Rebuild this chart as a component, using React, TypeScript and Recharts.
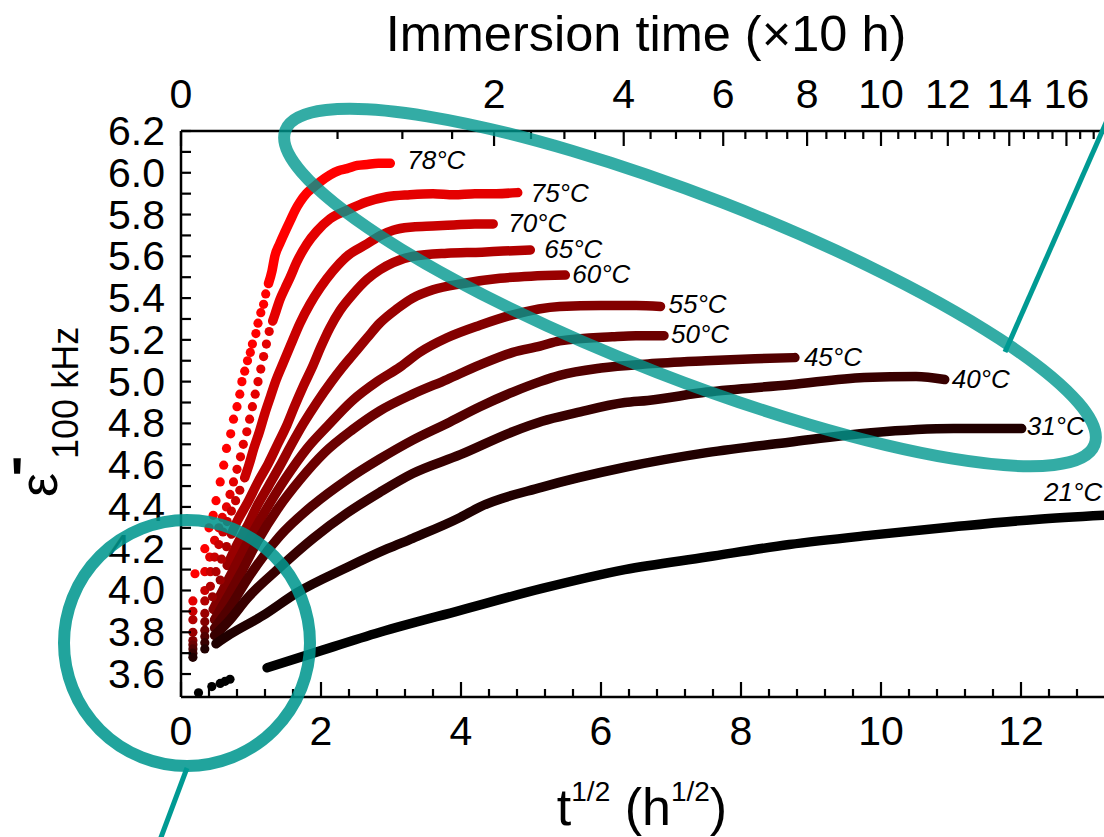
import React from "react"
import { ComposedChart, Line, Scatter, XAxis, YAxis, ReferenceDot } from "recharts"

// permittivity at 100 kHz vs sqrt(immersion time), one curve per bath temperature
const temps = ["78°C", "75°C", "70°C", "65°C", "60°C", "55°C", "50°C", "45°C", "40°C", "31°C", "21°C"]
const colors = ["#ff0000", "#e40000", "#c90000", "#b10000", "#990000", "#830000", "#6c0000", "#520000", "#380000", "#200000", "#000000"]

// early, well separated points of each run
const dots78 = [[0.2, 4.08], [0.34, 4.2], [0.4, 4.3], [0.46, 4.36], [0.5, 4.43], [0.56, 4.52], [0.61, 4.6], [0.65, 4.68], [0.71, 4.75], [0.75, 4.82], [0.8, 4.88], [0.84, 4.94], [0.87, 5.0], [0.91, 5.05], [0.95, 5.1], [0.99, 5.14], [1.02, 5.18], [1.07, 5.23], [1.1, 5.28], [1.14, 5.33], [1.18, 5.37], [1.21, 5.42]]
const dots75 = [[0.17, 3.95], [0.34, 4.09], [0.41, 4.16], [0.48, 4.24], [0.54, 4.3], [0.59, 4.35], [0.65, 4.4], [0.7, 4.46], [0.75, 4.52], [0.8, 4.58], [0.85, 4.64], [0.89, 4.7], [0.94, 4.76], [0.98, 4.82], [1.02, 4.88], [1.06, 4.94], [1.1, 5.0], [1.14, 5.06], [1.18, 5.12], [1.22, 5.18], [1.26, 5.24]]
const dots70 = [[0.17, 3.9], [0.34, 4.0], [0.42, 4.09], [0.48, 4.16], [0.54, 4.22], [0.6, 4.28], [0.66, 4.33], [0.72, 4.38], [0.78, 4.43], [0.84, 4.48]]
const dots65 = [[0.17, 3.86], [0.34, 3.95], [0.42, 4.02], [0.5, 4.09], [0.58, 4.15], [0.65, 4.21]]
const dots60 = [[0.17, 3.8], [0.34, 3.89], [0.45, 3.97], [0.56, 4.05]]
const dots55 = [[0.17, 3.76], [0.34, 3.85]]
const dots50 = [[0.17, 3.74], [0.34, 3.81]]
const dots45 = [[0.17, 3.72], [0.34, 3.78]]
const dots40 = [[0.17, 3.7], [0.34, 3.75]]
const dots31 = [[0.17, 3.68], [0.34, 3.72]]
const dots21 = [[0.25, 3.51], [0.44, 3.54], [0.56, 3.555], [0.63, 3.565], [0.7, 3.575]]

// dense part of each run (points merge into a band)
const line78 = [[1.25, 5.47], [1.3, 5.53], [1.34, 5.6], [1.41, 5.66], [1.49, 5.72], [1.56, 5.77], [1.63, 5.82], [1.7, 5.86], [1.79, 5.9], [1.89, 5.93], [2.0, 5.96], [2.13, 5.99], [2.25, 6.01], [2.37, 6.02], [2.52, 6.035], [2.66, 6.04], [2.82, 6.045], [2.99, 6.045]]
const line75 = [[1.31, 5.29], [1.36, 5.34], [1.41, 5.39], [1.49, 5.45], [1.56, 5.5], [1.65, 5.57], [1.8, 5.66], [1.94, 5.72], [2.13, 5.78], [2.37, 5.82], [2.65, 5.86], [2.94, 5.885], [3.27, 5.895], [3.6, 5.9], [3.9, 5.895], [4.2, 5.9], [4.5, 5.9], [4.81, 5.905]]
const line70 = [[0.91, 4.54], [0.97, 4.6], [1.04, 4.68], [1.12, 4.76], [1.2, 4.85], [1.28, 4.93], [1.35, 5.0], [1.46, 5.09], [1.56, 5.17], [1.7, 5.28], [1.84, 5.37], [1.99, 5.45], [2.17, 5.53], [2.37, 5.6], [2.66, 5.66], [2.85, 5.7], [3.03, 5.725], [3.31, 5.74], [3.6, 5.745], [3.9, 5.75], [4.2, 5.755], [4.46, 5.755]]
const line65 = [[0.72, 4.27], [0.8, 4.33], [0.95, 4.42], [1.1, 4.52], [1.25, 4.61], [1.38, 4.7], [1.51, 4.79], [1.62, 4.88], [1.75, 4.98], [1.89, 5.08], [1.99, 5.16], [2.13, 5.26], [2.27, 5.34], [2.46, 5.42], [2.66, 5.49], [2.84, 5.535], [3.03, 5.57], [3.31, 5.6], [3.8, 5.615], [4.3, 5.62], [4.6, 5.625], [4.99, 5.63]]
const line60 = [[0.66, 4.12], [0.8, 4.22], [0.95, 4.31], [1.08, 4.4], [1.25, 4.5], [1.42, 4.6], [1.58, 4.7], [1.75, 4.8], [1.94, 4.9], [2.15, 5.0], [2.31, 5.07], [2.46, 5.13], [2.66, 5.21], [2.84, 5.28], [3.09, 5.35], [3.31, 5.4], [3.6, 5.44], [4.03, 5.47], [4.56, 5.495], [5.0, 5.505], [5.49, 5.51]]
const line55 = [[0.46, 3.91], [0.58, 3.99], [0.75, 4.1], [0.95, 4.23], [1.22, 4.39], [1.5, 4.54], [1.8, 4.68], [2.1, 4.79], [2.45, 4.91], [2.8, 5.0], [3.13, 5.07], [3.41, 5.14], [3.8, 5.21], [4.27, 5.27], [4.74, 5.32], [5.41, 5.36], [6.0, 5.365], [6.5, 5.365], [6.85, 5.36]]
const line50 = [[0.48, 3.86], [0.65, 3.96], [0.85, 4.08], [1.1, 4.24], [1.38, 4.39], [1.7, 4.53], [2.05, 4.66], [2.45, 4.77], [2.84, 4.86], [3.31, 4.94], [3.8, 5.01], [4.27, 5.08], [4.74, 5.14], [5.13, 5.17], [5.41, 5.195], [6.16, 5.215], [6.5, 5.22], [6.9, 5.22]]
const line45 = [[0.48, 3.82], [0.7, 3.92], [0.94, 4.05], [1.41, 4.26], [1.89, 4.41], [2.37, 4.53], [2.84, 4.63], [3.31, 4.72], [3.8, 4.8], [4.27, 4.88], [4.74, 4.95], [5.13, 5.0], [5.41, 5.03], [6.0, 5.065], [6.67, 5.085], [7.5, 5.1], [8.2, 5.11], [8.77, 5.115]]
const line40 = [[0.48, 3.785], [0.7, 3.86], [0.94, 3.96], [1.41, 4.11], [1.89, 4.25], [2.37, 4.37], [2.84, 4.47], [3.31, 4.56], [3.99, 4.65], [4.74, 4.76], [5.16, 4.81], [5.64, 4.85], [6.34, 4.9], [6.67, 4.91], [7.51, 4.95], [8.7, 4.985], [9.76, 5.02], [10.5, 5.025], [10.91, 5.01]]
const line31 = [[0.5, 3.745], [0.7, 3.79], [1.17, 3.88], [1.66, 3.99], [2.37, 4.11], [2.95, 4.2], [3.31, 4.25], [3.99, 4.35], [4.27, 4.4], [5.16, 4.495], [6.34, 4.59], [7.51, 4.66], [8.69, 4.71], [9.86, 4.755], [11.04, 4.775], [12.01, 4.775]]
const line21 = [[1.23, 3.63], [1.89, 3.7], [2.84, 3.8], [3.99, 3.905], [5.16, 4.01], [6.34, 4.1], [7.51, 4.16], [8.69, 4.22], [9.86, 4.265], [11.04, 4.305], [12.21, 4.34], [13.2, 4.36]]

const dotSets = [dots78, dots75, dots70, dots65, dots60, dots55, dots50, dots45, dots40, dots31, dots21]
const lineSets = [line78, line75, line70, line65, line60, line55, line50, line45, line40, line31, line21]

// label offsets from the last point, px
const labelDx = [17, 13, 15, 14, 7, 8, 7, 9, 7, 5]
const labelDy = [6, 9, 8, 8, 8, 7, 7, 8, 8, 6]
const label21At = [12.33, 4.43]

const bottomTicks = [0, 0.4, 0.8, 1.2, 1.6, 2, 2.4, 2.8, 3.2, 3.6, 4, 4.4, 4.8, 5.2, 5.6, 6, 6.4, 6.8, 7.2, 7.6, 8, 8.4, 8.8, 9.2, 9.6, 10, 10.4, 10.8, 11.2, 11.6, 12, 12.4, 12.8]
// top axis: immersion time in units of 10 h
const topTimes = [0, 0.5, 1, 1.5, 2, 2.5, 3, 3.5, 4, 4.5, 5, 5.5, 6, 6.5, 7, 7.5, 8, 8.5, 9, 9.5, 10, 10.5, 11, 11.5, 12, 12.5, 13, 13.5, 14, 14.5, 15, 15.5, 16, 16.5, 17]
const yTicks = [3.6, 3.7, 3.8, 3.9, 4.0, 4.1, 4.2, 4.3, 4.4, 4.5, 4.6, 4.7, 4.8, 4.9, 5.0, 5.1, 5.2, 5.3, 5.4, 5.5, 5.6, 5.7, 5.8, 5.9, 6.0, 6.1, 6.2]

const XMAX = 923 / 70
const FONT = "'Liberation Sans', Arial, sans-serif"
const toPts = (a: number[][]) => a.map(([x, y]) => ({ x, y }))
const isEven = (v: number) => Math.abs(v / 2 - Math.round(v / 2)) < 1e-6

function BottomTick(p: any) {
  const v = p.payload.value
  const major = isEven(v)
  return (
    <g>
      <line x1={p.x} y1={p.y} x2={p.x} y2={p.y - (major ? 15 : 8)} stroke="#000" strokeWidth={2.2} />
      {major && (
        <text x={p.x} y={p.y + 48} textAnchor="middle" fontSize={41} fontFamily={FONT} fill="#000">
          {v}
        </text>
      )}
    </g>
  )
}

function TopTick(p: any) {
  const v = topTimes[p.index]
  const major = isEven(v)
  return (
    <g>
      <line x1={p.x} y1={p.y} x2={p.x} y2={p.y + (major ? 15 : 8)} stroke="#000" strokeWidth={2.2} />
      {major && (
        <text x={p.x} y={p.y - 23} textAnchor="middle" fontSize={41} fontFamily={FONT} fill="#000">
          {v}
        </text>
      )}
    </g>
  )
}

function LeftTick(p: any) {
  const v = p.payload.value
  const labelled = Math.round(v * 10) % 2 === 0
  return (
    <g>
      <line x1={p.x} y1={p.y} x2={p.x + 10} y2={p.y} stroke="#000" strokeWidth={2.2} />
      {labelled && (
        <text x={p.x - 16} y={p.y + 14} textAnchor="end" fontSize={41} fontFamily={FONT} fill="#000">
          {v.toFixed(1)}
        </text>
      )}
    </g>
  )
}

function TempLabel({ cx, cy, text, dx, dy }: any) {
  return (
    <text x={cx + dx} y={cy + dy} fontSize={26} fontStyle="italic" fontFamily={FONT} fill="#000">
      {text}
    </text>
  )
}

export default function App() {
  const axisLine = { stroke: "#000", strokeWidth: 2.5 }
  return (
    <div style={{ position: "relative", width: 1104, height: 837, background: "#fff" }}>
      <style>{"body{margin:0}"}</style>
      <ComposedChart width={1104} height={837} margin={{ top: 71, right: 0, bottom: 80, left: 81 }}>
        <XAxis
          xAxisId="b"
          type="number"
          dataKey="x"
          domain={[0, XMAX]}
          allowDataOverflow
          ticks={bottomTicks}
          interval={0}
          tickSize={0}
          tickMargin={0}
          tickLine={false}
          axisLine={axisLine}
          height={60}
          tick={(p: any) => <BottomTick {...p} />}
        />
        <XAxis
          xAxisId="t"
          orientation="top"
          type="number"
          dataKey="x"
          domain={[0, XMAX]}
          allowDataOverflow
          ticks={topTimes.map((v) => Math.sqrt(v * 10))}
          interval={0}
          tickSize={0}
          tickMargin={0}
          tickLine={false}
          axisLine={axisLine}
          height={60}
          tick={(p: any) => <TopTick {...p} />}
        />
        <YAxis
          type="number"
          dataKey="y"
          domain={[3.49, 6.2]}
          allowDataOverflow
          ticks={yTicks}
          interval={0}
          tickSize={0}
          tickMargin={0}
          tickLine={false}
          axisLine={axisLine}
          width={100}
          tick={(p: any) => <LeftTick {...p} />}
        />

        {temps.map((t, i) => (
          <Line
            key={"l" + t}
            xAxisId="b"
            data={toPts(lineSets[i])}
            dataKey="y"
            type="monotone"
            stroke={colors[i]}
            strokeWidth={9.5}
            strokeLinecap="round"
            strokeLinejoin="round"
            dot={false}
            activeDot={false}
            isAnimationActive={false}
          />
        ))}
        {temps.map((t, i) => (
          <Scatter
            key={"d" + t}
            xAxisId="b"
            data={toPts(dotSets[i])}
            dataKey="y"
            fill={colors[i]}
            isAnimationActive={false}
            shape={(p: any) => <circle cx={p.cx} cy={p.cy} r={4.6} fill={colors[i]} />}
          />
        ))}

        {temps.slice(0, 10).map((t, i) => {
          const last = lineSets[i][lineSets[i].length - 1]
          return (
            <ReferenceDot
              key={"t" + t}
              xAxisId="b"
              x={last[0]}
              y={last[1]}
              r={0}
              shape={(p: any) => <TempLabel cx={p.cx} cy={p.cy} text={t} dx={labelDx[i]} dy={labelDy[i]} />}
            />
          )
        })}
        <ReferenceDot
          xAxisId="b"
          x={label21At[0]}
          y={label21At[1]}
          r={0}
          shape={(p: any) => <TempLabel cx={p.cx} cy={p.cy} text={temps[10]} dx={0} dy={0} />}
        />
      </ComposedChart>

      {/* titles and the teal highlight marks */}
      <svg width={1104} height={837} style={{ position: "absolute", left: 0, top: 0, pointerEvents: "none" }}>
        <text x={646} y={51} textAnchor="middle" fontSize={50.5} fontFamily={FONT} fill="#000">
          Immersion time (×10 h)
        </text>
        <text x={642} y={825} textAnchor="middle" fontSize={52} fontFamily={FONT} fill="#000">
          t<tspan fontSize={28} dy={-24}>1/2</tspan>
          <tspan dy={24}> (h</tspan>
          <tspan fontSize={28} dy={-24}>1/2</tspan>
          <tspan dy={24}>)</tspan>
        </text>
        <g transform="translate(57 497) rotate(-90)">
          <text x={0} y={0} fontFamily={FONT} fill="#000">
            <tspan fontSize={54}>ε</tspan>
            <tspan fontSize={36} dx={14} dy={21}>100 kHz</tspan>
          </text>
        </g>
        <text x={11} y={504} fontSize={64} fontFamily={FONT} fill="#000" stroke="#000" strokeWidth={1.6}>'</text>

        <ellipse
          cx={690}
          cy={287.5}
          rx={434}
          ry={91}
          transform="rotate(21.25 690 287.5)"
          fill="none"
          stroke="#00978f"
          strokeOpacity={0.8}
          strokeWidth={12}
        />
        <circle cx={187} cy={643} r={123} fill="none" stroke="#00978f" strokeOpacity={0.87} strokeWidth={12} />
        <line x1={187} y1={768} x2={160} y2={840} stroke="#009a93" strokeWidth={5} />
        <line x1={1005} y1={352} x2={1160} y2={0} stroke="#009a93" strokeWidth={5} />
      </svg>
    </div>
  )
}
